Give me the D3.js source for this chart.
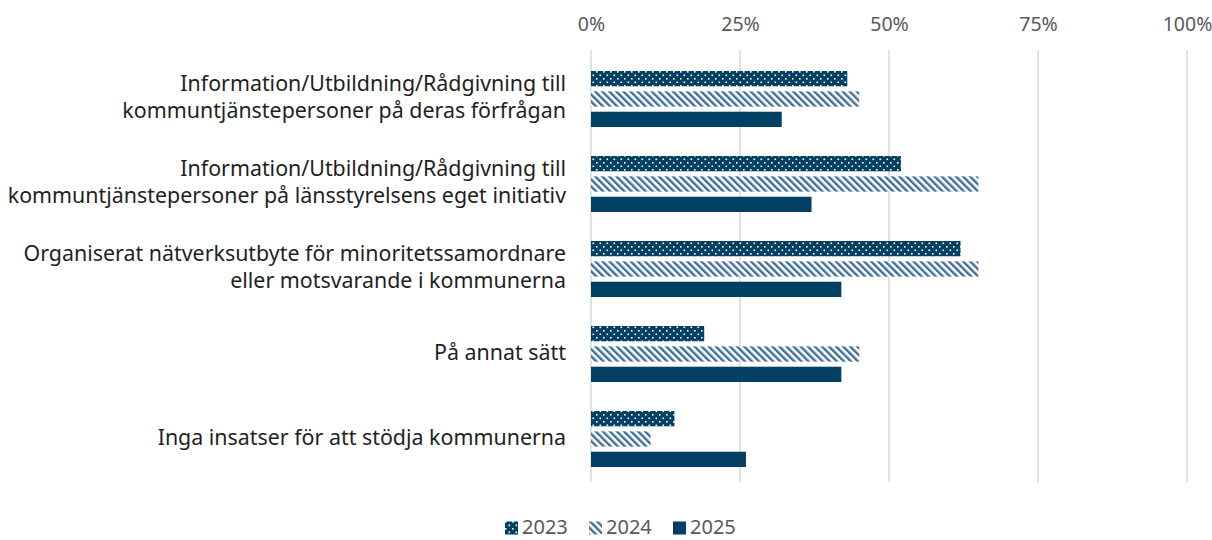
<!DOCTYPE html>
<html><head><meta charset="utf-8">
<script src="https://cdn.jsdelivr.net/npm/d3@7/dist/d3.min.js"></script>
<style>body{margin:0;background:#fff;}svg{display:block;font-family:"Noto Sans","Open Sans",sans-serif;}</style>
</head><body><svg id="c" width="1212" height="540"></svg>
<script>
const categories = [
  ["Information/Utbildning/Rådgivning till","kommuntjänstepersoner på deras förfrågan"],
  ["Information/Utbildning/Rådgivning till","kommuntjänstepersoner på länsstyrelsens eget initiativ"],
  ["Organiserat nätverksutbyte för minoritetssamordnare","eller motsvarande i kommunerna"],
  ["På annat sätt"],
  ["Inga insatser för att stödja kommunerna"]
];
const seriesNames = ["2023","2024","2025"];
const values2023 = [43, 52, 62, 19, 14];
const values2024 = [45, 65, 65, 45, 10];
const values2025 = [32, 37, 42, 42, 26];
const tickValues = [0, 25, 50, 75, 100];
const seriesValues = [values2023, values2024, values2025];

const svg = d3.select("#c");
const navy = "#013f63", hatch = "#3e6d96";
const defs = svg.append("defs");
const pd = defs.append("pattern").attr("id","dots").attr("patternUnits","userSpaceOnUse").attr("width",7).attr("height",7);
pd.append("rect").attr("width",7).attr("height",7).attr("fill",navy);
pd.append("rect").attr("x",1).attr("y",1).attr("width",1.6).attr("height",1.6).attr("fill","#fff");
pd.append("rect").attr("x",4.5).attr("y",4.5).attr("width",1.6).attr("height",1.6).attr("fill","#fff");
const ph = defs.append("pattern").attr("id","hatch").attr("patternUnits","userSpaceOnUse").attr("width",5).attr("height",5).attr("patternTransform","rotate(-45)");
ph.append("rect").attr("width",5).attr("height",5).attr("fill","#fff");
ph.append("rect").attr("x",0).attr("y",0).attr("width",2.4).attr("height",5).attr("fill",hatch);
const fills = ["url(#dots)","url(#hatch)",navy];

const x = d3.scaleLinear().domain([0,100]).range([591,1187]);
const y = d3.scaleBand().domain(d3.range(categories.length)).range([56,481]).padding(0);
const yi = d3.scaleBand().domain(d3.range(3)).range([15,71]).paddingInner(0.25).paddingOuter(0);

// gridlines
svg.append("g").selectAll("line").data(tickValues).join("line")
  .attr("x1",d=>x(d)).attr("x2",d=>x(d)).attr("y1",50).attr("y2",482)
  .attr("stroke","#d9d9d9").attr("stroke-width",1.5);

const ax = svg.append("g").attr("transform","translate(0,24)")
  .call(d3.axisTop(x).tickValues(tickValues).tickFormat(d=>d+"%").tickSize(0).tickPadding(0));
ax.select(".domain").remove();
ax.selectAll("text").attr("font-size",19.5).attr("fill","#595959").attr("font-family","Noto Sans, Open Sans, sans-serif").attr("dy","0.35em");

// bars
const g = svg.append("g");
categories.forEach((c,i)=>{
  seriesValues.forEach((vals,s)=>{
    g.append("rect").attr("x",x(0)).attr("y",y(i)+yi(s)).attr("width",x(vals[i])-x(0))
      .attr("height",yi.bandwidth()).attr("fill",fills[s]);
  });
  const cy = y(i)+y.bandwidth()/2 - 1;
  const t = svg.append("text").attr("text-anchor","end").attr("font-size",21.4).attr("fill","#1f1f1f");
  const n = c.length;
  c.forEach((line,k)=>{
    t.append("tspan").attr("x",566).attr("y",cy + (k-(n-1)/2)*27).attr("dy","0.35em").text(line);
  });
});

// legend
const lg = svg.append("g").attr("transform","translate(0,527)");
const lx = [505, 589, 673];
seriesNames.forEach((s,i)=>{
  lg.append("rect").attr("x",lx[i]).attr("y",-5.5).attr("width",13).attr("height",13).attr("fill",fills[i]);
  lg.append("text").attr("x",lx[i]+17).attr("y",0).attr("dy","0.35em").attr("font-size",20).attr("fill","#595959").text(s);
});
</script></body></html>
